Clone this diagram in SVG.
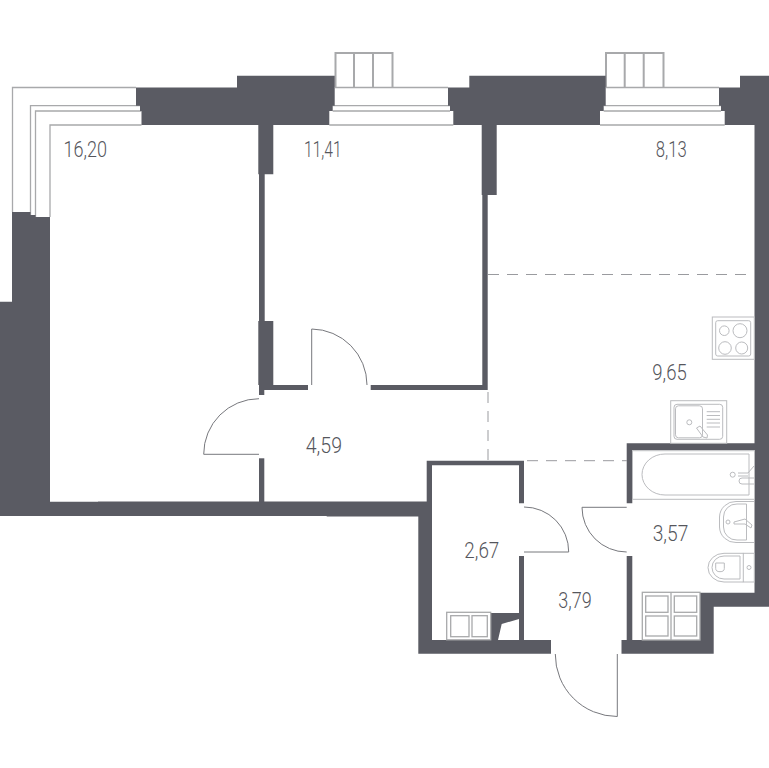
<svg xmlns="http://www.w3.org/2000/svg" width="769" height="768" viewBox="0 0 769 768">
<style>
.w{fill:#5a5b63}
.g{fill:none;stroke:#a8a9ab;stroke-width:1.3}
.f{fill:none;stroke:#bbbcbf;stroke-width:1}
.d{fill:none;stroke:#77787d;stroke-width:1}
.k{fill:none;stroke:#9a9b9f;stroke-width:1;stroke-dasharray:11 8}
.m{fill:none;stroke:#a8a9ab;stroke-width:2}
text{font-family:Roboto,"Liberation Sans",sans-serif;font-weight:300;font-size:21.5px;fill:#55565c}
</style>
<rect width="769" height="768" fill="#fff"/>
<g id="windows">
<path class="g" d="M12.5 212V87.5H136M30.5 215V105.7H140M35.5 217V111H141.5M50 217V125H141.5"/>
<path class="g" d="M335 87.5H448M332.7 105.7H450M332.7 111H450M329.3 125H453.3"/>
<path class="g" d="M605.7 87.5H719M603.7 105.7H721M603.7 111H721M600 125H724.7"/>
<path class="m" d="M335.500 87V53H392.500V87M354 53V87M373 53V87"/>
<path class="m" d="M606 87V53H663.500V87M624.700 53V87M643.700 53V87"/>
</g>
<g id="walls">
<path class="w" d="M136 87.5H237V75.7H334.7V105.7H332.7V111H329.3V125H141.5V111H140V105.7H136Z"/>
<path class="w" d="M448 87.5H469.3V75.7H605.7V105.7H603.7V111H600V125H453.3V111H450V105.7H448Z"/>
<path class="w" d="M719 87.5H740V75.7H769V606.7H713.7V653.7H621.5V640H626.7V556H632.3V640H700V592.7H754.5V450H632.3V503.3H626.7V443.3H754.5V125H724.7V111H721V105.7H719Z"/>
<path class="w" d="M12 212H30.5V215H35.5V217H50V501.7H98V501.5H426.7V460.7H524V503.3H519V465.3H432V640H519V556H524V640H551V653.7H418.3V516.5H326.7V516H0V301.7H12Z"/>
<path class="w" d="M491 613H519V619L501.7 624L498 640H491Z"/>
<path class="w" d="M258.3 125H273.3V174.3H264.7V321H273.3V385H308V390H264.3V395H259V385H258.3V321H259V174.3H258.3Z"/>
<rect class="w" x="259" y="458.3" width="5.3" height="44"/>
<path class="w" d="M481.7 125H496.7V195H487.7V390H370.7V385H482.3V195H481.7Z"/>
</g>
<g id="zones">
<path class="k" d="M488 274.5H754M488 392V460M527 460.7H627"/>
</g>
<g id="doors">
<path class="d" d="M311.7 385V329A56 56 0 0 1 367 385"/>
<path class="d" d="M259 454.3H203.7A55.5 55.5 0 0 1 259 398.7"/>
<path class="d" d="M524 552H568.7A44.7 44.7 0 0 0 524 507"/>
<path class="d" d="M626.7 507.3H582A44.7 44.7 0 0 0 626.7 552"/>
<path class="d" d="M617.3 654V716.5A62 62 0 0 1 555.3 654"/>
</g>
<g id="fixtures">
<rect class="f" x="712.3" y="317" width="42" height="42.3"/>
<rect class="f" x="715.7" y="320.7" width="35" height="35.3" rx="2"/>
<circle class="f" cx="724.3" cy="330.7" r="4.8"/>
<circle class="f" cx="740" cy="330.7" r="7"/>
<circle class="f" cx="725" cy="348" r="6.3"/>
<circle class="f" cx="741.7" cy="348" r="6"/>
<rect class="f" x="670.7" y="400.7" width="56" height="42.6"/>
<rect class="f" x="674" y="404.3" width="48.7" height="35" rx="3"/>
<rect class="f" x="675.5" y="405.8" width="27" height="32" rx="3"/>
<circle class="f" cx="689.3" cy="422.3" r="2.5"/>
<path class="f" d="M706.7 411.7H720M706.7 415.5H720M706.7 419.3H720M706.7 423H720M706.7 427H720"/>
<path class="f" d="M696.5 428L700 426L707.5 435L707 438L703 437Z"/>
<rect class="f" x="632.5" y="450.7" width="122" height="48.6"/>
<path class="f" d="M749 454H665A23 20.5 0 0 0 665 495H749Z"/>
<circle class="f" cx="732.7" cy="474.7" r="2.5"/>
<path class="f" d="M738 473H748L754 466M738 476H748M742 478H754M742 484H754M742 478A3 3 0 0 0 742 484"/>
<path class="f" d="M754 501.5H736A16 16 0 0 0 719.5 517V527A16 16 0 0 0 736 542.5H754"/>
<path class="f" d="M746.5 504H737A13 13 0 0 0 723.5 517V527A13 13 0 0 0 737 540H746.5V504Z"/>
<circle class="f" cx="728" cy="522" r="2"/>
<path class="f" d="M734 522L745 519L752 525L751 528L745 524L734 524Z"/>
<rect class="f" x="743.3" y="553.3" width="11" height="28.7"/>
<path class="f" d="M743.3 553.3H724A16 14.350 0 0 0 724 582H743.3"/>
<path class="f" d="M740 556H724A12 11.500 0 0 0 724 579H740Z"/>
<path class="f" d="M715.7 563H724.3V568.500A4.300 3.200 0 0 1 715.700 568.500Z"/>
<circle class="f" cx="749" cy="567.5" r="2"/>
<rect class="g" x="642.3" y="592.3" width="57.7" height="47.7"/>
<path class="g" d="M671 592.3V640"/>
<rect class="g" x="645.7" y="596" width="22.3" height="16.3"/>
<rect class="g" x="645.7" y="616" width="22.3" height="20"/>
<rect class="g" x="674.3" y="596" width="22.4" height="16.3"/>
<rect class="g" x="674.3" y="616" width="22.4" height="20"/>
<rect class="g" x="446.7" y="612.3" width="44" height="27.5"/>
<rect class="g" x="450.7" y="615.7" width="18.3" height="21"/>
<rect class="g" x="472" y="615.7" width="15.3" height="21"/>
</g>
<g id="labels">
<text x="63.5" y="156.7" textLength="43.5" lengthAdjust="spacingAndGlyphs">16,20</text>
<text x="304" y="156.7" textLength="37.7" lengthAdjust="spacingAndGlyphs">11,41</text>
<text x="655.7" y="156.7" textLength="31" lengthAdjust="spacingAndGlyphs">8,13</text>
<text x="652.3" y="380" textLength="34.4" lengthAdjust="spacingAndGlyphs">9,65</text>
<text x="305.7" y="453.3" textLength="36.3" lengthAdjust="spacingAndGlyphs">4,59</text>
<text x="464.3" y="557.7" textLength="35" lengthAdjust="spacingAndGlyphs">2,67</text>
<text x="558.3" y="608.3" textLength="33.4" lengthAdjust="spacingAndGlyphs">3,79</text>
<text x="652.7" y="541" textLength="35.6" lengthAdjust="spacingAndGlyphs">3,57</text>
</g>
</svg>
